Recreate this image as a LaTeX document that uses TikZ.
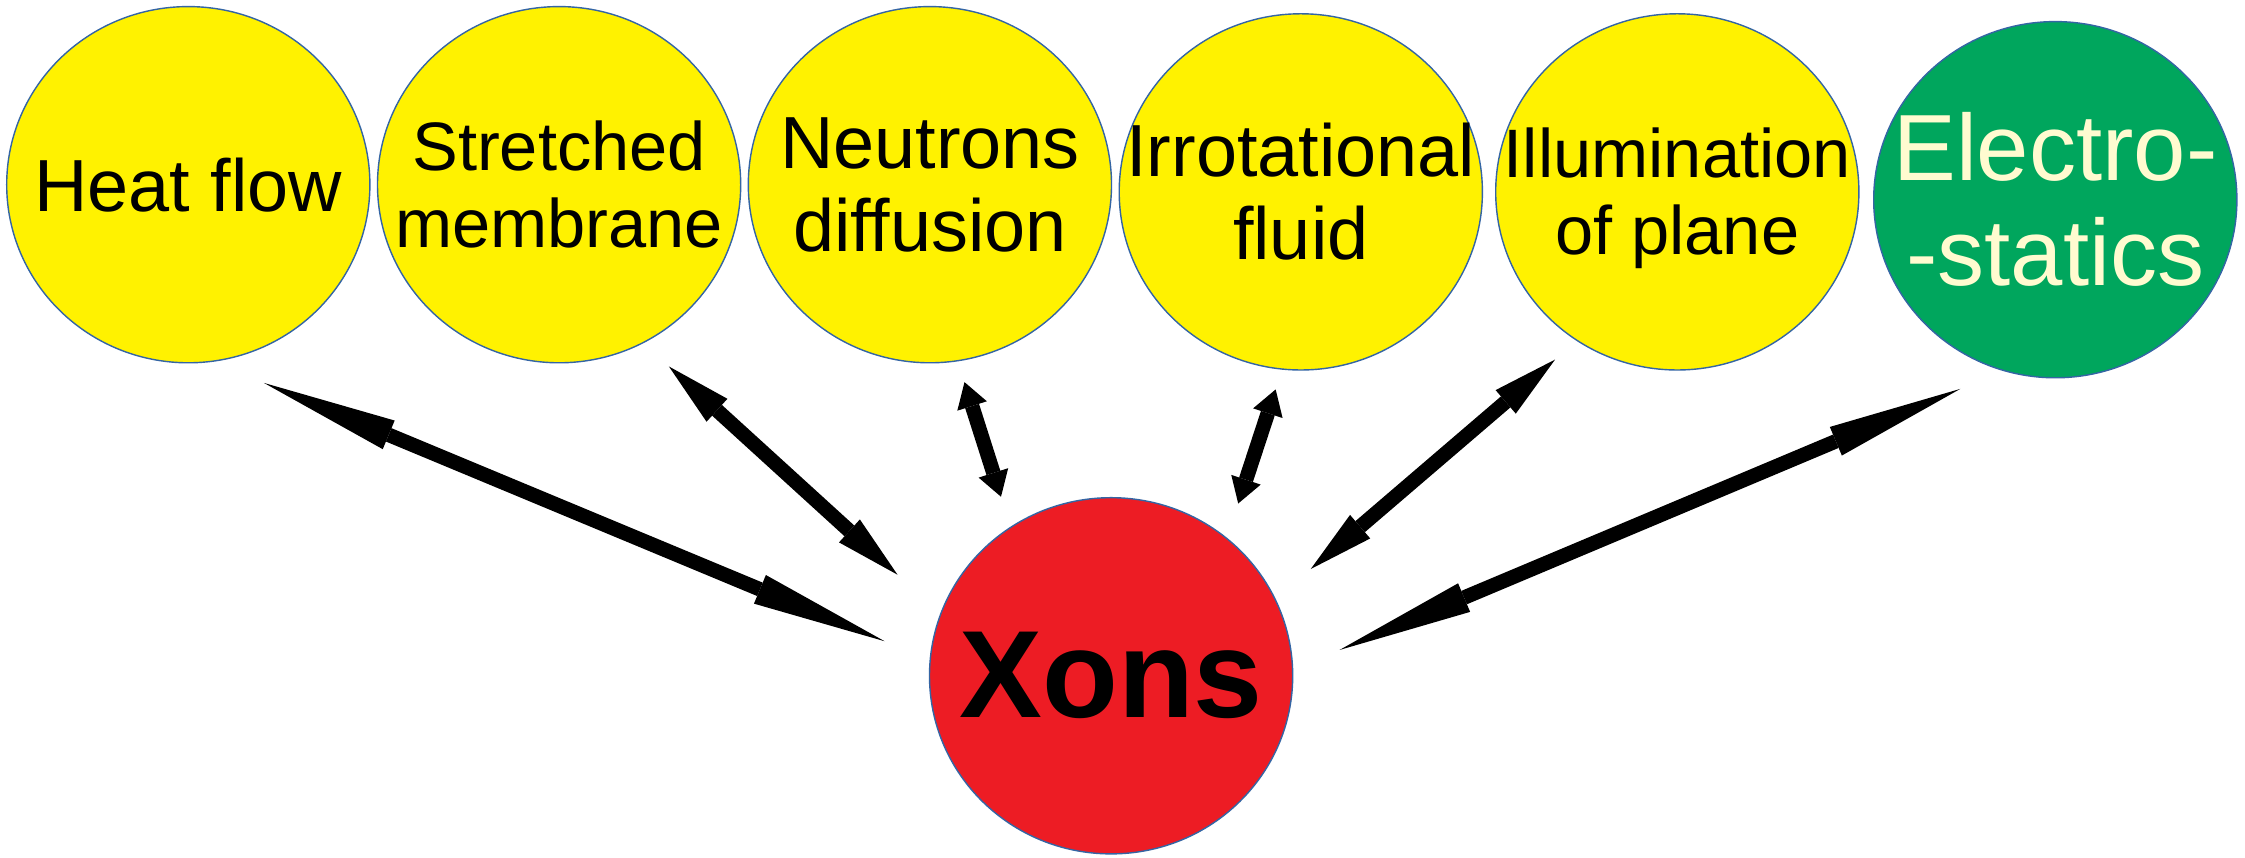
\documentclass[tikz,border=0pt]{standalone}
\usepackage{fontspec}
\setmainfont{Liberation Sans}
\usetikzlibrary{shapes.geometric,arrows.meta}
\definecolor{jaune}{RGB}{255,242,0}
\definecolor{vert}{RGB}{0,166,93}
\definecolor{rouge}{RGB}{237,28,36}
\definecolor{creme}{RGB}{255,251,208}
\definecolor{bord}{RGB}{52,101,164}

\begin{document}
\begin{tikzpicture}[x=0.01cm,y=0.01cm,
  bulle/.style={ellipse,draw=bord,line width=0.4pt,minimum width=3.63cm,minimum height=3.56cm,inner sep=0pt},
  texte/.style={align=center,inner sep=0pt},
  grand/.style={font=\fontsize{21}{23.5}\selectfont},
  petit/.style={font=\fontsize{19.5}{21.8}\selectfont},
  fleche/.style={line width=0.145cm,>={Triangle[length=#1,width=0.31cm,line width=0pt]},<->}]
\path [use as bounding box, fill=white] (0,0) rectangle (2245,858);

\node [bulle, fill=jaune] (chaleur) at (188.3,673.3) {};
\node [bulle, fill=jaune] (membrane) at (559.1,673.3) {};
\node [bulle, fill=jaune] (neutrons) at (929.9,673.3) {};
\node [bulle, fill=jaune] (fluide) at (1300.8,666.1) {};
\node [bulle, fill=jaune] (plan) at (1677.3,666.1) {};
\node [bulle, fill=vert] (electro) at (2055.3,658.3) {};
\node [bulle, fill=rouge] (xons) at (1111.1,182.2) {};

\node [texte, grand] (chaleur-t) at (chaleur) {Heat flow};
\node [texte, petit] (membrane-t) at (membrane) {Stretched\\membrane};
\node [texte, grand] (neutrons-t) at (neutrons) {Neutrons\\diffusion};
\node [texte, grand] (fluide-t) at (fluide) {Irrotational\\fluid};
\node [texte, petit] (plan-t) at ([yshift=-0.064cm]plan.center) {Illumination\\of plane};
\node [texte, text=creme, font=\fontsize{26.75}{29.8}\selectfont] (electro-t) at (electro) {Electro-\\-statics};
\node [texte, font=\bfseries\fontsize{35.3}{40}\selectfont] (xons-t) at (xons) {Xons};

\draw [fleche=1.35cm, shorten <=0.55cm, shorten >=0.486cm] (chaleur.-82.9) -- (xons.175.6);
\draw [fleche=0.65cm, shorten <=0.345cm, shorten >=0.577cm] (membrane.-62.5) -- (xons.160);
\draw [fleche=0.25cm, shorten <=0.218cm, shorten >=0.314cm] (neutrons.-81.5) -- (xons.124.2);
\draw [fleche=0.25cm, shorten <=0.207cm, shorten >=0.36cm] (fluide.-96.2) -- (xons.50.8);
\draw [fleche=0.65cm, shorten <=0.285cm, shorten >=0.461cm] (plan.-124.3) -- (xons.25.1);
\draw [fleche=1.35cm, shorten <=0.462cm, shorten >=0.502cm] (electro.-107.5) -- (xons.2.3);

\end{tikzpicture}
\end{document}
